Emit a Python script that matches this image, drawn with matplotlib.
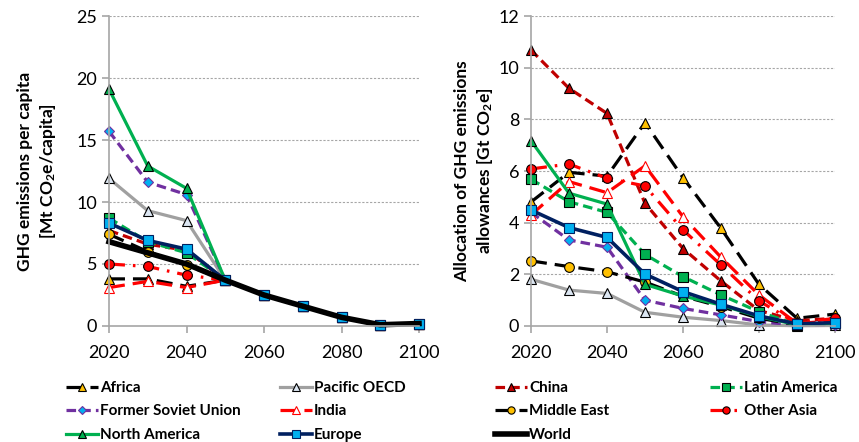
import matplotlib
matplotlib.use("Agg")
import matplotlib.pyplot as plt

plt.rcParams['font.family'] = ['Lato', 'DejaVu Sans']
plt.rcParams['mathtext.default'] = 'regular'

years = [2020, 2030, 2040, 2050, 2060, 2070, 2080, 2090, 2100]

# Left panel: per-capita emissions [Mt CO2e/capita]
tail = [2.5, 1.6, 0.7, 0.1, 0.2]
pc_africa = [3.8, 3.8, 3.2, 3.7] + tail
pc_pacific = [11.9, 9.3, 8.5, 3.7] + tail
pc_china = [7.7, 6.6, 6.1, 3.7] + tail
pc_latam = [8.7, 6.8, 5.9, 3.7] + tail
pc_fsu = [15.7, 11.6, 10.6, 3.7] + tail
pc_india = [3.1, 3.6, 3.1, 3.7] + tail
pc_mideast = [7.4, 6.0, 4.9, 3.7] + tail
pc_otherasia = [5.0, 4.8, 4.1, 3.7] + tail
pc_northam = [19.1, 12.9, 11.1, 3.7] + tail
pc_europe = [8.3, 6.9, 6.2, 3.7] + tail
pc_world = [6.8, 5.9, 5.0, 3.7] + tail

# Right panel: allowances [Gt CO2e]
al_africa = [4.8, 5.95, 5.8, 7.87, 5.74, 3.78, 1.61, 0.3, 0.46]
al_pacific = [1.81, 1.39, 1.26, 0.53, 0.34, 0.21, 0.04, 0.01, 0.02]
al_china = [10.68, 9.2, 8.23, 4.75, 3.0, 1.74, 0.6, 0.2, 0.3]
al_latam = [5.68, 4.81, 4.4, 2.77, 1.91, 1.2, 0.55, 0.05, 0.1]
al_fsu = [4.4, 3.33, 3.05, 1.0, 0.68, 0.43, 0.17, 0.03, 0.05]
al_india = [4.3, 5.59, 5.16, 6.2, 4.23, 2.66, 1.2, 0.1, 0.2]
al_mideast = [2.52, 2.3, 2.1, 1.7, 1.15, 0.75, 0.3, 0.05, 0.1]
al_otherasia = [6.08, 6.27, 5.72, 5.42, 3.72, 2.36, 0.97, 0.1, 0.3]
al_northam = [7.17, 5.14, 4.72, 1.61, 1.16, 0.81, 0.36, 0.05, 0.1]
al_europe = [4.49, 3.81, 3.43, 2.01, 1.33, 0.84, 0.39, 0.08, 0.13]

names = ["Africa", "Pacific OECD", "China", "Latin America", "Former Soviet Union",
         "India", "Middle East", "Other Asia", "North America", "Europe", "World"]

LW = 2.3
styles = {
    "Africa": dict(color="black", lw=LW, dashes=(5, 2.5), marker="^", mfc="#FFC000", mec="black"),
    "Pacific OECD": dict(color="#A0A0A0", lw=LW, ls="-", marker="^", mfc="#DCE6F2", mec="black"),
    "China": dict(color="#C00000", lw=LW, dashes=(3, 1.6), marker="^", mfc="#C00000", mec="black"),
    "Latin America": dict(color="#00B050", lw=LW, dashes=(3, 1.6), marker="s", mfc="#00B050", mec="black"),
    "Former Soviet Union": dict(color="#7030A0", lw=LW, dashes=(3, 1.6), marker="D", mfc="#00B0F0", mec="#7030A0", ms=5),
    "India": dict(color="#FF0000", lw=LW, dashes=(5, 2.5), marker="^", mfc="white", mec="#FF0000"),
    "Middle East": dict(color="black", lw=LW, dashes=(5, 2.5), marker="o", mfc="#FFC000", mec="black"),
    "Other Asia": dict(color="#FF0000", lw=LW, dashes=(5, 2.5, 0.8, 2.5), marker="o", mfc="#FF0000", mec="black"),
    "North America": dict(color="#00B050", lw=LW, ls="-", marker="^", mfc="#00B050", mec="black"),
    "Europe": dict(color="#002060", lw=LW + 0.3, ls="-", marker="s", mfc="#00B0F0", mec="#002060"),
    "World": dict(color="black", lw=4.0, ls="-", marker=None),
}

left_data = [pc_africa, pc_pacific, pc_china, pc_latam, pc_fsu, pc_india,
             pc_mideast, pc_otherasia, pc_northam, pc_europe, pc_world]
right_data = [al_africa, al_pacific, al_china, al_latam, al_fsu, al_india,
              al_mideast, al_otherasia, al_northam, al_europe]

fig = plt.figure(figsize=(8.59, 4.42), dpi=100)
axL = fig.add_axes([109 / 859, 1 - 326 / 442, 310 / 859, 310 / 442])
axR = fig.add_axes([531 / 859, 1 - 326 / 442, 304 / 859, 310 / 442])


def draw(ax, name, vals):
    st = dict(styles[name])
    ms = st.pop("ms", 7)
    mec = st.pop("mec", None)
    mfc = st.pop("mfc", None)
    marker = st.pop("marker")
    kw = dict(color=st.pop("color"), lw=st.pop("lw"), marker=marker, ms=ms,
              mfc=mfc, mec=mec, mew=0.8, clip_on=False, label=name)
    if "dashes" in st:
        kw["dashes"] = st.pop("dashes")
    else:
        kw["ls"] = st.pop("ls", "-")
    return ax.plot(years, vals, **kw)[0]


handles = {}
for n, v in zip(names, left_data):
    handles[n] = draw(axL, n, v)
for n, v in zip(names[:-1], right_data):
    draw(axR, n, v)


def style_ax(ax, ymax, ystep):
    ax.set_xlim(2020, 2100)
    ax.set_ylim(0, ymax)
    ax.set_xticks(range(2020, 2101, 20))
    ax.set_yticks(range(0, ymax + 1, ystep))
    for s in ["top", "right"]:
        ax.spines[s].set_visible(False)
    for s in ["left", "bottom"]:
        ax.spines[s].set_color("#A6A6A6")
        ax.spines[s].set_linewidth(1.2)
    ax.tick_params(axis="both", colors="#A6A6A6", labelcolor="black",
                   length=5, width=1.2, labelsize=13)
    ax.tick_params(axis="x", pad=9)
    ax.yaxis.grid(True, color="#A6A6A6", ls=(0, (2, 1.5)), lw=0.8)
    ax.set_axisbelow(True)


style_ax(axL, 25, 5)
style_ax(axR, 12, 2)

axL.set_ylabel("GHG emissions per capita\n[Mt CO$_2$e/capita]", fontsize=12.5,
               fontweight="bold", linespacing=1.3)
axL.yaxis.set_label_coords(-0.165, 0.5)
axR.set_ylabel("Allocation of GHG emissions\nallowances [Gt CO$_2$e]", fontsize=12.5,
               fontweight="bold", linespacing=1.3)
axR.yaxis.set_label_coords(-0.12, 0.5)

# Legend as four columns placed evenly
cols = [["Africa", "Former Soviet Union", "North America"],
        ["Pacific OECD", "India", "Europe"],
        ["China", "Middle East", "World"],
        ["Latin America", "Other Asia"]]
xs = [66, 280, 495, 710]
for col, x in zip(cols, xs):
    fig.legend([handles[n] for n in col], col, loc="upper left",
               bbox_to_anchor=(x / 859, 1 - 381 / 442), frameon=False,
               handlelength=2.1, handletextpad=0.12, labelspacing=0.62,
               borderaxespad=0, borderpad=0, markerscale=0.75,
               prop=dict(family=['Lato', 'DejaVu Sans'], weight='bold', size=11))

fig.savefig("out.png", dpi=100)
